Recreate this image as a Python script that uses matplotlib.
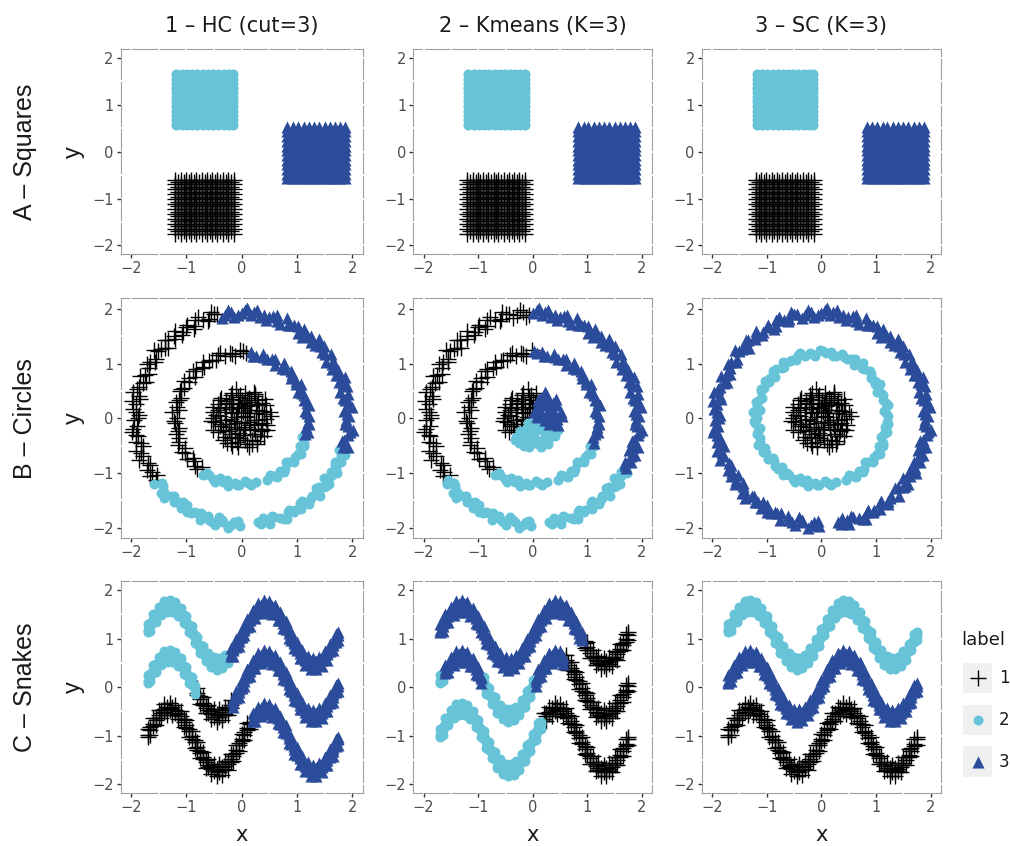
import numpy as np
import matplotlib.pyplot as plt
from matplotlib.patches import Rectangle

plt.rcParams['font.family'] = ['DejaVu Sans']
ROT_FONT = ['Liberation Sans', 'DejaVu Sans']

W, H = 1010, 846
LIGHT = '#67C4D8'
DARK = '#2B4B9B'

METHODS = ['1 – HC (cut=3)', '2 – Kmeans (K=3)', '3 – SC (K=3)']
DATASETS = ['A – Squares', 'B – Circles', 'C – Snakes']
LEGEND_LABELS = [1, 2, 3]
TICKS = [-2, -1, 0, 1, 2]
GRID = [-2, -1.5, -1, -0.5, 0, 0.5, 1, 1.5, 2]

# ---- A: squares (columns / rows of each block) ----
SQ_BLACK_X = [-1.20, -1.10, -1.01, -0.91, -0.82, -0.72, -0.63, -0.53, -0.44, -0.34, -0.25, -0.14]
SQ_BLACK_Y = [-1.75, -1.64, -1.54, -1.43, -1.33, -1.22, -1.12, -1.01, -0.91, -0.80, -0.70, -0.60]
SQ_BLACK_X2 = [-1.15, -1.05, -0.96, -0.86, -0.77, -0.67, -0.58, -0.48, -0.39, -0.29, -0.19]
SQ_BLACK_Y2 = [-1.70, -1.59, -1.49, -1.38, -1.28, -1.17, -1.07, -0.96, -0.86, -0.75, -0.65]
SQ_LIGHT_X = [-1.18, -1.08, -0.99, -0.89, -0.80, -0.70, -0.61, -0.51, -0.42, -0.32, -0.23, -0.15]
SQ_LIGHT_Y = [0.57, 0.67, 0.77, 0.87, 0.97, 1.07, 1.17, 1.27, 1.36, 1.46, 1.56, 1.66]
SQ_DARK_X = [0.83, 0.93, 1.02, 1.12, 1.21, 1.31, 1.40, 1.50, 1.59, 1.69, 1.78, 1.87]
SQ_DARK_Y = [-0.57, -0.47, -0.37, -0.27, -0.17, -0.07, 0.03, 0.13, 0.23, 0.33, 0.43, 0.53]

# ---- B: circles, (angle in degrees, radius) ----
CIRCLE_INNER = [
    (10, 0.42), (35, 0.18), (62, 0.51), (88, 0.33), (115, 0.47), (140, 0.25), (168, 0.53),
    (195, 0.38), (222, 0.12), (248, 0.49), (275, 0.30), (300, 0.54), (327, 0.41), (352, 0.22),
    (20, 0.28), (48, 0.45), (75, 0.12), (100, 0.55), (128, 0.36), (155, 0.44), (182, 0.20),
    (210, 0.50), (235, 0.34), (262, 0.52), (290, 0.16), (315, 0.46), (340, 0.31), (5, 0.54),
    (28, 0.50), (55, 0.30), (82, 0.46), (108, 0.22), (135, 0.53), (160, 0.32), (188, 0.48),
    (215, 0.27), (242, 0.40), (268, 0.08), (295, 0.43), (322, 0.52), (348, 0.37), (15, 0.10),
    (42, 0.38), (68, 0.24), (95, 0.42), (122, 0.14), (148, 0.50), (175, 0.40), (202, 0.55),
    (228, 0.45), (255, 0.21), (282, 0.48), (308, 0.26), (335, 0.50), (358, 0.45), (120, 0.30),
    (40, 0.55), (70, 0.40), (180, 0.52), (250, 0.36), (310, 0.38), (200, 0.30), (100, 0.40),
    (330, 0.15), (260, 0.44), (150, 0.20), (60, 0.35), (285, 0.55), (230, 0.52), (170, 0.10),
    (25, 0.35), (50, 0.20), (80, 0.28), (110, 0.50), (132, 0.42), (158, 0.55), (185, 0.30),
    (212, 0.40), (238, 0.24), (265, 0.36), (292, 0.50), (318, 0.30), (345, 0.48), (12, 0.52),
    (38, 0.46), (65, 0.53), (92, 0.18), (118, 0.40), (145, 0.35), (172, 0.46), (198, 0.15),
    (225, 0.33), (252, 0.54), (278, 0.40), (305, 0.50), (332, 0.42), (355, 0.30), (30, 0.08),
    (200, 0.42), (100, 0.26), (280, 0.20), (160, 0.45), (60, 0.48), (240, 0.52), (320, 0.20),
    (140, 0.52), (20, 0.40), (260, 0.28), (185, 0.55), (75, 0.35),
]
CIRCLE_MIDDLE = [
    (2, 1.22), (7, 1.15), (11, 1.25), (16, 1.18), (21, 1.21), (25, 1.13), (30, 1.24), (35, 1.19),
    (39, 1.16), (44, 1.23), (49, 1.20), (53, 1.26), (58, 1.14), (63, 1.21), (67, 1.18), (72, 1.24),
    (77, 1.17), (82, 1.22), (86, 1.19), (91, 1.25), (96, 1.15), (100, 1.21), (105, 1.18), (110, 1.23),
    (114, 1.16), (119, 1.20), (124, 1.25), (128, 1.17), (133, 1.22), (138, 1.14), (142, 1.20),
    (147, 1.24), (152, 1.18), (156, 1.21), (161, 1.15), (166, 1.23), (170, 1.19), (175, 1.26),
    (180, 1.17), (184, 1.21), (189, 1.14), (194, 1.22), (198, 1.19), (203, 1.25), (208, 1.16),
    (212, 1.20), (217, 1.23), (222, 1.17), (226, 1.21), (231, 1.15), (236, 1.24), (240, 1.19),
    (245, 1.22), (250, 1.16), (254, 1.20), (259, 1.25), (264, 1.18), (268, 1.21), (273, 1.15),
    (278, 1.23), (283, 1.19), (292, 1.22), (296, 1.16), (301, 1.24), (306, 1.18), (310, 1.21),
    (315, 1.14), (320, 1.23), (324, 1.19), (329, 1.25), (334, 1.17), (338, 1.21), (343, 1.15),
    (348, 1.23), (352, 1.18), (357, 1.20),
    (4.5, 1.18), (13.5, 1.22), (23, 1.19), (32.5, 1.16), (41.5, 1.21), (51, 1.17), (60.5, 1.24),
    (70, 1.19), (79.5, 1.16), (89, 1.22), (98.5, 1.18), (108, 1.25), (117, 1.19), (126, 1.15),
    (135.5, 1.23), (145, 1.17), (154, 1.22), (163.5, 1.19), (172.5, 1.14), (182, 1.23),
    (191.5, 1.18), (201, 1.21), (210, 1.24), (219.5, 1.14), (229, 1.22), (238, 1.18),
    (247.5, 1.25), (256.5, 1.15), (266, 1.22), (275.5, 1.19), (299, 1.20), (308, 1.24),
    (317.5, 1.17), (327, 1.21), (336, 1.23), (345.5, 1.18), (355, 1.22),
]
CIRCLE_OUTER = [
    (1, 1.95), (4, 1.86), (6, 2.00), (10, 1.90), (13, 1.97), (15, 1.85), (19, 1.93), (22, 2.01),
    (25, 1.88), (27, 1.96), (31, 1.91), (34, 1.84), (36, 1.99), (40, 1.89), (43, 1.94), (46, 2.02),
    (48, 1.87), (52, 1.92), (55, 1.98), (57, 1.86), (61, 1.95), (64, 1.90), (66, 2.01), (70, 1.88),
    (73, 1.96), (76, 1.85), (78, 1.93), (82, 2.00), (85, 1.89), (88, 1.97), (90, 1.92), (94, 1.86),
    (97, 1.99), (99, 1.90), (103, 1.95), (106, 2.02), (109, 1.87), (111, 1.93), (115, 1.98),
    (118, 1.85), (121, 1.94), (124, 1.90), (127, 2.00), (130, 1.88), (133, 1.96), (136, 1.84),
    (139, 1.92), (142, 2.01), (145, 1.89), (148, 1.95), (151, 1.91), (154, 1.86), (157, 1.99),
    (160, 1.90), (163, 1.94), (166, 2.02), (169, 1.87), (172, 1.93), (175, 1.97), (178, 1.86),
    (181, 1.95), (184, 1.89), (187, 2.00), (190, 1.91), (193, 1.96), (196, 1.85), (199, 1.93),
    (202, 2.01), (206, 1.88), (209, 1.95), (211, 1.90), (214, 1.84), (217, 1.98), (221, 1.89),
    (224, 1.94), (226, 2.02), (229, 1.87), (233, 1.92), (236, 1.97), (238, 1.86), (242, 1.95),
    (245, 1.90), (248, 2.00), (251, 1.88), (254, 1.96), (257, 1.85), (260, 1.93), (263, 2.01),
    (266, 1.89), (269, 1.96), (279, 1.91), (282, 1.86), (285, 1.99), (288, 1.90), (291, 1.94),
    (294, 2.02), (297, 1.87), (300, 1.93), (303, 1.98), (306, 1.86), (309, 1.95), (312, 1.90),
    (315, 2.01), (318, 1.88), (321, 1.96), (324, 1.85), (327, 1.93), (330, 2.00), (333, 1.89),
    (336, 1.97), (339, 1.92), (342, 1.86), (345, 1.99), (348, 1.90), (351, 1.95), (354, 2.02),
    (357, 1.88),
    (2.5, 1.90), (8, 1.97), (11.5, 1.87), (17, 1.99), (20.5, 1.89), (24, 1.94), (29, 1.86),
    (32.5, 1.96), (38, 1.92), (41.5, 2.00), (45, 1.88), (50, 1.95), (53.5, 1.85), (59, 1.97),
    (62.5, 1.91), (68, 1.86), (71.5, 1.99), (75, 1.92), (80, 1.87), (83.5, 1.95), (87, 2.01),
    (92, 1.89), (95.5, 1.94), (101, 1.87), (104.5, 1.97), (108, 1.91), (113, 2.00), (116.5, 1.88),
    (120, 1.96), (125.5, 1.86), (129, 1.93), (134, 1.99), (137.5, 1.89), (141, 1.95),
    (146.5, 1.87), (150, 1.98), (155.5, 1.92), (159, 1.85), (164, 1.96), (167.5, 1.90),
    (171, 2.00), (176.5, 1.91), (180, 1.87), (185.5, 1.97), (189, 1.93), (194, 1.88),
    (197.5, 2.00), (201, 1.91), (207.5, 1.86), (212.5, 1.96), (216, 1.92), (219.5, 1.87),
    (223, 1.99), (228, 1.90), (231.5, 1.95), (235, 1.86), (240, 1.98), (243.5, 1.92),
    (247, 1.87), (252.5, 1.94), (256, 2.00), (259, 1.89), (264.5, 1.95), (268, 1.88),
    (280.5, 1.97), (284, 1.92), (287, 1.87), (292.5, 1.99), (296, 1.90), (299, 1.95),
    (304.5, 1.88), (308, 1.98), (311, 1.92), (316.5, 1.86), (320, 1.95), (323, 1.99),
    (328.5, 1.89), (332, 1.94), (335, 1.87), (340.5, 1.98), (344, 1.91), (347, 1.86),
    (352.5, 1.97), (356, 1.92), (359, 1.89),
]

# ---- C: snakes, upper / centre / lower rail of each band at SNAKE_X ----
SNAKE_X = [-1.70, -1.65, -1.60, -1.55, -1.50, -1.45, -1.40, -1.35, -1.30, -1.25,
           -1.20, -1.15, -1.10, -1.05, -1.00, -0.95, -0.90, -0.85, -0.80, -0.75,
           -0.70, -0.65, -0.60, -0.55, -0.50, -0.45, -0.40, -0.35, -0.30, -0.25,
           -0.20, -0.15, -0.10, -0.05, 0.00, 0.05, 0.10, 0.15, 0.20, 0.25,
           0.30, 0.35, 0.40, 0.45, 0.50, 0.55, 0.60, 0.65, 0.70, 0.75,
           0.80, 0.85, 0.90, 0.95, 1.00, 1.05, 1.10, 1.15, 1.20, 1.25,
           1.30, 1.35, 1.40, 1.45, 1.50, 1.55, 1.60, 1.65, 1.70, 1.75]
TOP_HI = [1.30, 1.32, 1.50, 1.51, 1.66, 1.64, 1.77, 1.71, 1.79, 1.71,
          1.75, 1.62, 1.64, 1.48, 1.47, 1.29, 1.26, 1.07, 1.04, 0.86,
          0.85, 0.69, 0.70, 0.57, 0.62, 0.52, 0.61, 0.55, 0.67, 0.65,
          0.80, 0.81, 0.99, 1.01, 1.20, 1.23, 1.41, 1.43, 1.60, 1.59,
          1.73, 1.69, 1.79, 1.72, 1.78, 1.67, 1.70, 1.55, 1.55, 1.38,
          1.36, 1.17, 1.14, 0.96, 0.93, 0.76, 0.76, 0.62, 0.65, 0.53,
          0.60, 0.53, 0.63, 0.60, 0.74, 0.73, 0.90, 0.92, 1.10, 1.13]
TOP_MID = [1.18, 1.26, 1.40, 1.46, 1.55, 1.59, 1.66, 1.66, 1.69, 1.66,
           1.64, 1.58, 1.53, 1.43, 1.36, 1.24, 1.15, 1.02, 0.93, 0.81,
           0.74, 0.64, 0.59, 0.52, 0.51, 0.47, 0.50, 0.50, 0.56, 0.60,
           0.69, 0.76, 0.88, 0.96, 1.09, 1.18, 1.30, 1.38, 1.49, 1.54,
           1.62, 1.64, 1.68, 1.67, 1.67, 1.62, 1.59, 1.50, 1.44, 1.33,
           1.25, 1.12, 1.03, 0.91, 0.82, 0.71, 0.65, 0.57, 0.54, 0.48,
           0.49, 0.48, 0.52, 0.55, 0.63, 0.68, 0.79, 0.87, 0.99, 1.08]
TOP_LO = [1.14, 1.16, 1.34, 1.35, 1.50, 1.48, 1.61, 1.55, 1.64, 1.55,
          1.59, 1.47, 1.48, 1.32, 1.31, 1.13, 1.10, 0.91, 0.88, 0.70,
          0.69, 0.53, 0.54, 0.41, 0.46, 0.36, 0.45, 0.39, 0.51, 0.49,
          0.64, 0.65, 0.83, 0.85, 1.04, 1.07, 1.25, 1.27, 1.44, 1.43,
          1.57, 1.53, 1.63, 1.56, 1.62, 1.51, 1.54, 1.39, 1.39, 1.22,
          1.20, 1.01, 0.98, 0.80, 0.77, 0.60, 0.60, 0.46, 0.49, 0.37,
          0.44, 0.37, 0.47, 0.44, 0.58, 0.57, 0.74, 0.76, 0.94, 0.97]
MID_HI = [0.25, 0.28, 0.46, 0.47, 0.63, 0.61, 0.74, 0.68, 0.77, 0.68,
          0.72, 0.59, 0.60, 0.44, 0.42, 0.24, 0.21, 0.02, -0.01, -0.19,
          -0.21, -0.38, -0.37, -0.50, -0.45, -0.55, -0.46, -0.52, -0.40, -0.42,
          -0.26, -0.25, -0.07, -0.04, 0.15, 0.18, 0.37, 0.39, 0.56, 0.56,
          0.70, 0.66, 0.76, 0.69, 0.75, 0.64, 0.67, 0.52, 0.51, 0.33,
          0.31, 0.12, 0.09, -0.10, -0.12, -0.30, -0.30, -0.45, -0.42, -0.54,
          -0.47, -0.54, -0.44, -0.47, -0.33, -0.33, -0.16, -0.14, 0.05, 0.08]
MID_MID = [0.13, 0.22, 0.35, 0.42, 0.52, 0.56, 0.63, 0.63, 0.66, 0.62,
           0.61, 0.53, 0.49, 0.38, 0.31, 0.18, 0.10, -0.04, -0.12, -0.25,
           -0.32, -0.44, -0.48, -0.56, -0.56, -0.61, -0.57, -0.58, -0.51, -0.48,
           -0.37, -0.31, -0.18, -0.10, 0.04, 0.12, 0.26, 0.33, 0.45, 0.50,
           0.59, 0.60, 0.65, 0.63, 0.64, 0.58, 0.56, 0.46, 0.40, 0.27,
           0.20, 0.06, -0.02, -0.16, -0.23, -0.36, -0.41, -0.51, -0.53, -0.60,
           -0.58, -0.60, -0.55, -0.53, -0.44, -0.39, -0.27, -0.20, -0.06, 0.02]
MID_LO = [0.09, 0.12, 0.30, 0.31, 0.47, 0.45, 0.58, 0.52, 0.61, 0.52,
          0.56, 0.43, 0.44, 0.28, 0.26, 0.08, 0.05, -0.14, -0.17, -0.35,
          -0.37, -0.54, -0.53, -0.66, -0.61, -0.71, -0.62, -0.68, -0.56, -0.58,
          -0.42, -0.41, -0.23, -0.20, -0.01, 0.02, 0.21, 0.23, 0.40, 0.40,
          0.54, 0.50, 0.60, 0.53, 0.59, 0.48, 0.51, 0.36, 0.35, 0.17,
          0.15, -0.04, -0.07, -0.26, -0.28, -0.46, -0.46, -0.61, -0.58, -0.70,
          -0.63, -0.70, -0.60, -0.63, -0.49, -0.49, -0.32, -0.30, -0.11, -0.08]
BOT_HI = [-0.86, -0.83, -0.64, -0.63, -0.47, -0.48, -0.35, -0.41, -0.32, -0.41,
          -0.37, -0.50, -0.49, -0.66, -0.68, -0.86, -0.90, -1.09, -1.13, -1.31,
          -1.33, -1.50, -1.49, -1.63, -1.58, -1.68, -1.59, -1.65, -1.52, -1.54,
          -1.38, -1.37, -1.19, -1.15, -0.96, -0.93, -0.73, -0.71, -0.54, -0.54,
          -0.40, -0.43, -0.33, -0.40, -0.34, -0.45, -0.43, -0.58, -0.59, -0.77,
          -0.79, -0.99, -1.02, -1.22, -1.24, -1.42, -1.43, -1.58, -1.55, -1.67,
          -1.60, -1.67, -1.57, -1.60, -1.45, -1.45, -1.28, -1.26, -1.06, -1.03]
BOT_MID = [-0.98, -0.88, -0.75, -0.68, -0.58, -0.53, -0.46, -0.46, -0.43, -0.46,
           -0.48, -0.55, -0.60, -0.71, -0.79, -0.91, -1.01, -1.14, -1.24, -1.36,
           -1.44, -1.55, -1.60, -1.68, -1.69, -1.73, -1.70, -1.70, -1.63, -1.59,
           -1.49, -1.42, -1.30, -1.20, -1.07, -0.98, -0.84, -0.76, -0.65, -0.59,
           -0.51, -0.48, -0.44, -0.45, -0.45, -0.50, -0.54, -0.63, -0.70, -0.82,
           -0.90, -1.04, -1.13, -1.27, -1.35, -1.47, -1.54, -1.63, -1.66, -1.72,
           -1.71, -1.72, -1.68, -1.65, -1.56, -1.50, -1.39, -1.31, -1.17, -1.08]
BOT_LO = [-1.02, -0.99, -0.80, -0.79, -0.63, -0.64, -0.51, -0.57, -0.48, -0.57,
          -0.53, -0.66, -0.65, -0.82, -0.84, -1.02, -1.06, -1.25, -1.29, -1.47,
          -1.49, -1.66, -1.65, -1.79, -1.74, -1.84, -1.75, -1.81, -1.68, -1.70,
          -1.54, -1.53, -1.35, -1.31, -1.12, -1.09, -0.89, -0.87, -0.70, -0.70,
          -0.56, -0.59, -0.49, -0.56, -0.50, -0.61, -0.59, -0.74, -0.75, -0.93,
          -0.95, -1.15, -1.18, -1.38, -1.40, -1.58, -1.59, -1.74, -1.71, -1.83,
          -1.76, -1.83, -1.73, -1.76, -1.61, -1.61, -1.44, -1.42, -1.22, -1.19]

# cluster assignment: (break points, labels between them)
# circles: break points are angles (deg) for inner / middle / outer ring
HC_CIRCLES = [([], [1]), ([85, 235, 345], [3, 1, 2, 3]), ([103, 217, 343], [3, 1, 2, 3])]
KM_CIRCLES = [([80, 220, 340], [3, 1, 2, 3]), ([90, 232, 338], [3, 1, 2, 3]),
              ([91, 216, 331], [3, 1, 2, 3])]
SC_CIRCLES = [([], [1]), ([], [2]), ([], [3])]
# snakes: break points are x values for top / middle / bottom band
HC_SNAKES = [([-0.2], [2, 3]), ([-0.8, -0.18], [2, 1, 3]), ([0.2], [1, 3])]
KM_SNAKES = [([0.95], [3, 1]), ([-1.62, -0.9, 0.05, 0.58], [2, 3, 2, 3, 1]), ([0.2], [2, 1])]
SC_SNAKES = [([], [2]), ([], [3]), ([], [1])]

STYLE = {1: dict(marker='+', c='black', s=125, linewidths=1.0),
         2: dict(marker='o', c=LIGHT, s=52, linewidths=0),
         3: dict(marker='^', c=DARK, s=76, linewidths=0)}


def assign(values, cuts, labs):
    return np.array(labs)[np.searchsorted(cuts, values, side='right')]


def squares_data():
    xs, ys, ls = [], [], []
    for cx, cy, lab in [(SQ_BLACK_X, SQ_BLACK_Y, 1), (SQ_BLACK_X2, SQ_BLACK_Y2, 1),
                        (SQ_LIGHT_X, SQ_LIGHT_Y, 2), (SQ_DARK_X, SQ_DARK_Y, 3)]:
        gx, gy = np.meshgrid(cx, cy)
        xs.append(gx.ravel())
        ys.append(gy.ravel())
        ls.append(np.full(gx.size, lab))
    return np.concatenate(xs), np.concatenate(ys), np.concatenate(ls)


def circles_data(rules):
    xs, ys, ls = [], [], []
    for ring, (cuts, labs) in zip([CIRCLE_INNER, CIRCLE_MIDDLE, CIRCLE_OUTER], rules):
        a = np.array([p[0] for p in ring], dtype=float)
        r = np.array([p[1] for p in ring])
        xs.append(r * np.cos(np.radians(a)))
        ys.append(r * np.sin(np.radians(a)))
        ls.append(assign(a, cuts, labs))
    return np.concatenate(xs), np.concatenate(ys), np.concatenate(ls)


def snakes_data(rules):
    xs, ys, ls = [], [], []
    bands = [(TOP_HI, TOP_MID, TOP_LO), (MID_HI, MID_MID, MID_LO), (BOT_HI, BOT_MID, BOT_LO)]
    for rails, (cuts, labs) in zip(bands, rules):
        x = np.array(SNAKE_X * 3)
        xs.append(x)
        ys.append(np.array(rails[0] + rails[1] + rails[2]))
        ls.append(assign(x, cuts, labs))
    return np.concatenate(xs), np.concatenate(ys), np.concatenate(ls)


panels = [
    [squares_data(), squares_data(), squares_data()],
    [circles_data(HC_CIRCLES), circles_data(KM_CIRCLES), circles_data(SC_CIRCLES)],
    [snakes_data(HC_SNAKES), snakes_data(KM_SNAKES), snakes_data(SC_SNAKES)],
]

COL_PX = [(120.5, 362.7), (413.3, 652.3), (701.7, 941.0)]
ROW_PX = [(49.0, 254.3), (298.3, 538.3), (581.0, 793.3)]

fig = plt.figure(figsize=(W / 100, H / 100), dpi=100)

for i, (top, bot) in enumerate(ROW_PX):
    for j, (left, right) in enumerate(COL_PX):
        ax = fig.add_axes([left / W, 1 - bot / H, (right - left) / W, (bot - top) / H])
        x, y, lab = panels[i][j]
        for k in LEGEND_LABELS:
            sel = lab == k
            ax.scatter(x[sel], y[sel], zorder=1, **STYLE[k])
        ax.set_xlim(-2.19, 2.19)
        ax.set_ylim(-2.19, 2.19)
        ax.set_xticks(TICKS)
        ax.set_yticks(TICKS)
        ax.tick_params(length=3, width=1.0, color='#333333', labelcolor='#4D4D4D',
                       labelsize=10.5, pad=2)
        for sp in ax.spines.values():
            sp.set_color('#9E9E9E')
            sp.set_linewidth(0.8)
            sp.set_zorder(0.4)
        for v in GRID:
            ax.axvline(v, ymin=-0.012, ymax=1.012, color='white', lw=1.4, zorder=0.5, clip_on=False)
            ax.axhline(v, xmin=-0.012, xmax=1.012, color='white', lw=1.4, zorder=0.5, clip_on=False)

ov = fig.add_axes([0, 0, 1, 1])
ov.set_xlim(0, W)
ov.set_ylim(H, 0)
ov.axis('off')

for (left, right), t in zip(COL_PX, METHODS):
    ov.text((left + right) / 2, 32, t, ha='center', va='baseline', fontsize=15, color='#1A1A1A')
    ov.text((left + right) / 2, 841, 'x', ha='center', va='baseline', fontsize=15, color='#1A1A1A')
for (top, bot), t in zip(ROW_PX, DATASETS):
    ov.text(25, (top + bot) / 2, t, rotation=90, ha='center', va='center', fontsize=18,
            color='#1A1A1A', family=ROT_FONT)
    ov.text(74, (top + bot) / 2, 'y', rotation=90, ha='center', va='center', fontsize=17,
            color='#1A1A1A', family=ROT_FONT)

# legend
ov.text(961, 645, 'label', ha='left', va='baseline', fontsize=13, color='#1A1A1A')
for k, cy in zip(LEGEND_LABELS, [678.0, 720.0, 761.7]):
    ov.add_patch(Rectangle((963.3, cy - 15.3), 28.4, 30.6, facecolor='#F0F0F0', edgecolor='none'))
    ov.scatter([977.5], [cy], **STYLE[k])
    ov.text(999, cy, str(k), ha='left', va='center', fontsize=12, color='#1A1A1A')

fig.savefig('out.png', dpi=100)
